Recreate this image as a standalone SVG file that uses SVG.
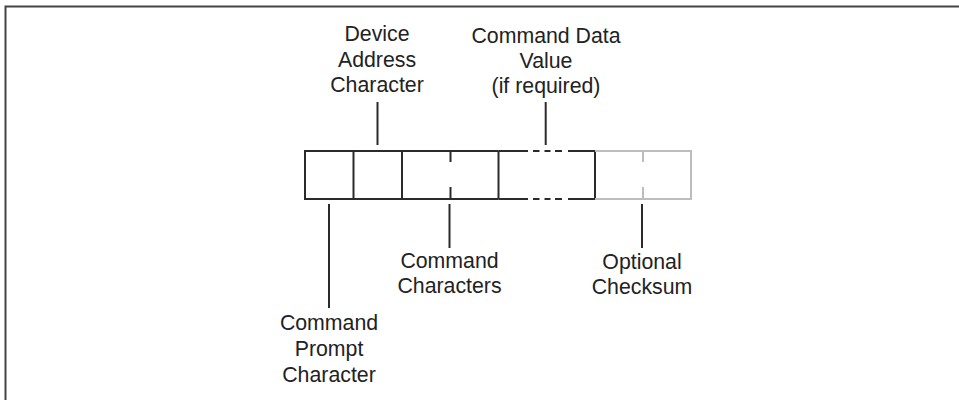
<svg xmlns="http://www.w3.org/2000/svg" width="959" height="400" viewBox="0 0 959 400">
<style>
.frame{fill:none;stroke:#444;stroke-width:2}
.box{fill:none;stroke:#2b2b2b;stroke-width:2}
.opt{fill:none;stroke:#bdbdbd;stroke-width:2}
.lead{stroke:#2b2b2b;stroke-width:2}
text{font-family:"Liberation Sans",Arial,sans-serif;font-size:21.3px;fill:#222;text-anchor:middle}
</style>
<rect width="959" height="400" fill="#fff"/>
<path class="frame" d="M5.5,400 V6.5 H959"/>
<g id="frame-box">
<path class="box" d="M498.5,151 H305 V199 H498.5"/>
<path class="box" d="M353.5,151 V199 M402,151 V199 M498.5,151 V199"/>
<path class="box" d="M450.5,151 V162 M450.5,187 V199"/>
<path class="box" d="M498.5,151 H528 M533,151 H539.5 M544.5,151 H550.5 M555,151 H562 M568,151 H595 V199 H568 M562,199 H555 M550.5,199 H544.5 M539.5,199 H533 M528,199 H498.5"/>
<path class="opt" d="M595,151 H691 V199 H595"/>
<path class="opt" d="M643,151 V162 M643,187 V199"/>
</g>
<g id="connectors">
<line class="lead" x1="377.5" y1="102" x2="377.5" y2="145"/>
<line class="lead" x1="545.7" y1="102" x2="545.7" y2="145"/>
<line class="lead" x1="329" y1="204" x2="329" y2="308"/>
<line class="lead" x1="449.5" y1="204" x2="449.5" y2="248"/>
<line class="lead" x1="642" y1="204" x2="642" y2="248"/>
</g>
<g id="device-address">
<text x="377" y="41">Device</text>
<text x="377" y="66.5">Address</text>
<text x="377" y="92">Character</text>
</g>
<g id="command-data">
<text x="546" y="43">Command Data</text>
<text x="546" y="68">Value</text>
<text x="546" y="92.5">(if required)</text>
</g>
<g id="command-characters">
<text x="449.5" y="268">Command</text>
<text x="449.5" y="293">Characters</text>
</g>
<g id="command-prompt">
<text x="329" y="330">Command</text>
<text x="329" y="356">Prompt</text>
<text x="329" y="381.5">Character</text>
</g>
<g id="optional-checksum">
<text x="642" y="269">Optional</text>
<text x="642" y="294">Checksum</text>
</g>
</svg>
